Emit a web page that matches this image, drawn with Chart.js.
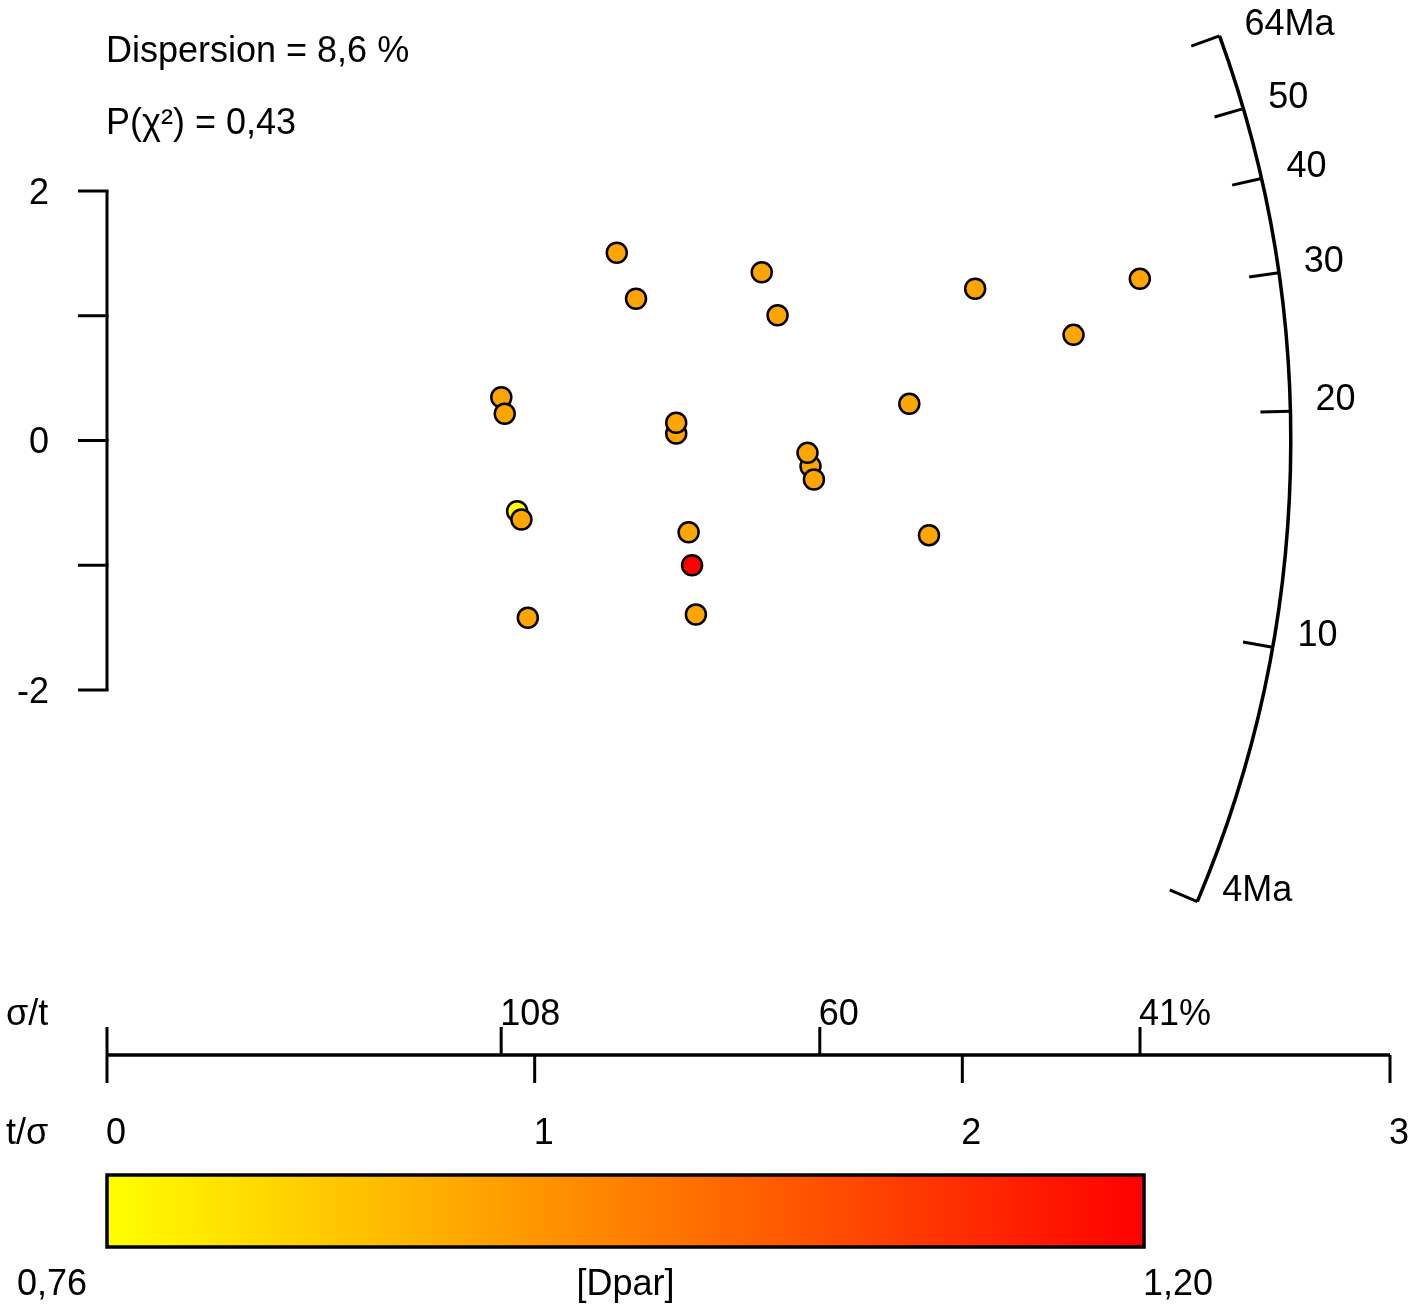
<!DOCTYPE html>
<html><head><meta charset="utf-8">
<script src="https://cdn.jsdelivr.net/npm/chart.js@4.4.0/dist/chart.umd.min.js"></script>
<style>html,body{margin:0;padding:0;background:#fff;overflow:hidden}</style>
</head><body>
<canvas id="c" width="1426" height="1309"></canvas>
<script>
// ---- data ----
const tOverSigma = [1.192, 1.237, 1.531, 1.568, 0.922, 0.930, 1.331, 1.331, 1.645, 1.638, 1.653, 0.959, 0.969, 1.360, 1.368, 0.984, 1.377, 2.115, 2.030, 2.415, 2.260, 1.876, 1.922];
const zStandardised = [1.505, 1.136, 1.349, 1.004, 0.347, 0.214, 0.056, 0.142, -0.206, -0.099, -0.313, -0.567, -0.633, -0.735, -1.000, -1.421, -1.395, 2.271, 1.216, 1.296, 0.847, 0.294, -0.759];
const dparValues = [0.915, 0.915, 0.915, 0.915, 0.915, 0.915, 0.915, 0.915, 0.915, 0.915, 0.915, 0.76, 0.915, 0.915, 1.20, 0.915, 0.915, 0.915, 0.915, 0.915, 0.915, 0.915, 0.915];

const yTicks = [-2, -1, 0, 1, 2];
const yTickLabels = ['-2', '', '0', '', '2'];
const precisionTicks = [0, 1, 2, 3];
const precisionTickLabels = ['0', '1', '2', '3'];
const relErrorTicks = [108.5, 60, 41.4];      // sigma/t in %
const relErrorTickLabels = ['108', '60', '41%'];
const ageTicks = [10, 20, 30, 40, 50];
const ageTickLabels = ['10', '20', '30', '40', '50'];
const ageLimits = [4.31, 63.9];
const ageLimitLabels = ['4Ma', '64Ma'];
const centralAge = 18.37;   // Ma
const arcRadius = 2.768;    // in t/sigma units
const dparRange = [0.76, 1.20];
const dparRangeLabels = ['0,76', '1,20'];
const colourbarTitle = '[Dpar]';
const statsLines = ['Dispersion = 8,6 %', 'P(\u03C7\u00B2) = 0,43'];
const xAxisTitleTop = '\u03C3/t';
const xAxisTitleBottom = 't/\u03C3';

// ---- helpers ----
const FONT = '36px "Liberation Sans", Arial, Helvetica, sans-serif';
function colourFor(v) {
  const f = Math.min(1, Math.max(0, (v - dparRange[0]) / (dparRange[1] - dparRange[0])));
  return 'rgb(255,' + Math.round(255 * (1 - f)) + ',0)';
}
const points = tOverSigma.map((v, i) => ({x: v, y: zStandardised[i]}));

const radialPlugin = {
  id: 'radial',
  beforeDatasetsDraw(chart) {
    const {ctx, scales: {x, y}, chartArea} = chart;
    const x0 = x.getPixelForValue(0), y0 = y.getPixelForValue(0);
    ctx.save();
    ctx.strokeStyle = '#000';
    ctx.fillStyle = '#000';
    ctx.font = FONT;
    ctx.lineCap = 'butt';

    // stats text
    ctx.textAlign = 'left';
    ctx.textBaseline = 'alphabetic';
    ctx.fillText(statsLines[0], x0 - 1, 62);
    ctx.fillText(statsLines[1], x0 - 1, 134);

    // y axis
    ctx.lineWidth = 3;
    ctx.beginPath();
    ctx.moveTo(x0, y.getPixelForValue(yTicks[yTicks.length - 1]));
    ctx.lineTo(x0, y.getPixelForValue(yTicks[0]));
    ctx.stroke();
    ctx.textAlign = 'right';
    ctx.textBaseline = 'middle';
    yTicks.forEach((t, i) => {
      const py = y.getPixelForValue(t);
      ctx.beginPath(); ctx.moveTo(x0 - 29, py); ctx.lineTo(x0 + 1.5, py); ctx.stroke();
      if (yTickLabels[i]) ctx.fillText(yTickLabels[i], x0 - 58, py + 3);
    });

    // bottom precision axis
    const axY = chartArea.bottom + 365;
    const xEnd = x.getPixelForValue(precisionTicks[precisionTicks.length - 1]);
    ctx.lineWidth = 3.5;
    ctx.beginPath(); ctx.moveTo(x0, axY); ctx.lineTo(xEnd, axY); ctx.stroke();
    ctx.lineWidth = 3;
    ctx.textAlign = 'left';
    precisionTicks.forEach((t, i) => {
      const px = x.getPixelForValue(t);
      ctx.beginPath(); ctx.moveTo(px, axY); ctx.lineTo(px, axY + 28); ctx.stroke();
      ctx.fillText(precisionTickLabels[i], px - 1, axY + 79);
    });
    // zero tick goes up too
    ctx.beginPath(); ctx.moveTo(x0, axY); ctx.lineTo(x0, axY - 28); ctx.stroke();
    relErrorTicks.forEach((r, i) => {
      const px = x.getPixelForValue(100 / r);
      ctx.beginPath(); ctx.moveTo(px, axY); ctx.lineTo(px, axY - 28); ctx.stroke();
      ctx.fillText(relErrorTickLabels[i], px - 1, axY - 40);
    });
    ctx.fillText(xAxisTitleTop, 6, axY - 40);
    ctx.fillText(xAxisTitleBottom, 6, axY + 79);

    // radial age scale (arc)
    const R = x.getPixelForValue(arcRadius) - x0;
    const k = (y0 - y.getPixelForValue(1)) / (x.getPixelForValue(1) - x0);
    const ang = a => Math.atan(k * Math.log(a / centralAge));
    ctx.lineWidth = 3.5;
    ctx.beginPath();
    ctx.arc(x0, y0, R, -ang(ageLimits[1]), -ang(ageLimits[0]), false);
    ctx.stroke();
    const allAges = [ageLimits[0]].concat(ageTicks, [ageLimits[1]]);
    const allLabels = [ageLimitLabels[0]].concat(ageTickLabels, [ageLimitLabels[1]]);
    ctx.lineWidth = 3;
    ctx.textAlign = 'left';
    ctx.textBaseline = 'middle';
    allAges.forEach((a, i) => {
      const phi = ang(a);
      const c = Math.cos(phi), s = Math.sin(phi);
      const ax = x0 + R * c, ay = y0 - R * s;
      ctx.beginPath(); ctx.moveTo(ax, ay); ctx.lineTo(x0 + (R - 30) * c, y0 - (R - 30) * s); ctx.stroke();
      ctx.fillText(allLabels[i], ax + 25, ay - 11);
    });

    // colour bar
    const bx0 = x0, bx1 = x0 + 1037, by0 = 1175, by1 = 1247;
    const g = ctx.createLinearGradient(bx0, 0, bx1, 0);
    g.addColorStop(0, colourFor(dparRange[0]));
    g.addColorStop(0.5, colourFor((dparRange[0] + dparRange[1]) / 2));
    g.addColorStop(1, colourFor(dparRange[1]));
    ctx.fillStyle = g;
    ctx.fillRect(bx0, by0, bx1 - bx0, by1 - by0);
    ctx.lineWidth = 3.5;
    ctx.strokeRect(bx0, by0, bx1 - bx0, by1 - by0);
    ctx.fillStyle = '#000';
    ctx.textBaseline = 'middle';
    ctx.textAlign = 'center';
    ctx.fillText(dparRangeLabels[0], bx0 - 55, 1285);
    ctx.fillText(colourbarTitle, (bx0 + bx1) / 2, 1285);
    ctx.fillText(dparRangeLabels[1], bx1 + 34, 1285);
    ctx.restore();
  }
};

new Chart(document.getElementById('c'), {
  type: 'scatter',
  data: {
    datasets: [{
      data: points,
      pointRadius: 10,
      pointBorderWidth: 2.5,
      pointBorderColor: '#000',
      pointBackgroundColor: dparValues.map(colourFor),
      clip: false
    }]
  },
  options: {
    responsive: false,
    animation: false,
    devicePixelRatio: 1,
    events: [],
    layout: {padding: {left: 107, right: 36, top: 191, bottom: 619}},
    plugins: {legend: {display: false}, tooltip: {enabled: false}},
    scales: {
      x: {type: 'linear', min: 0, max: 3, display: false},
      y: {type: 'linear', min: -2, max: 2, display: false}
    }
  },
  plugins: [radialPlugin]
});
</script>
</body></html>
